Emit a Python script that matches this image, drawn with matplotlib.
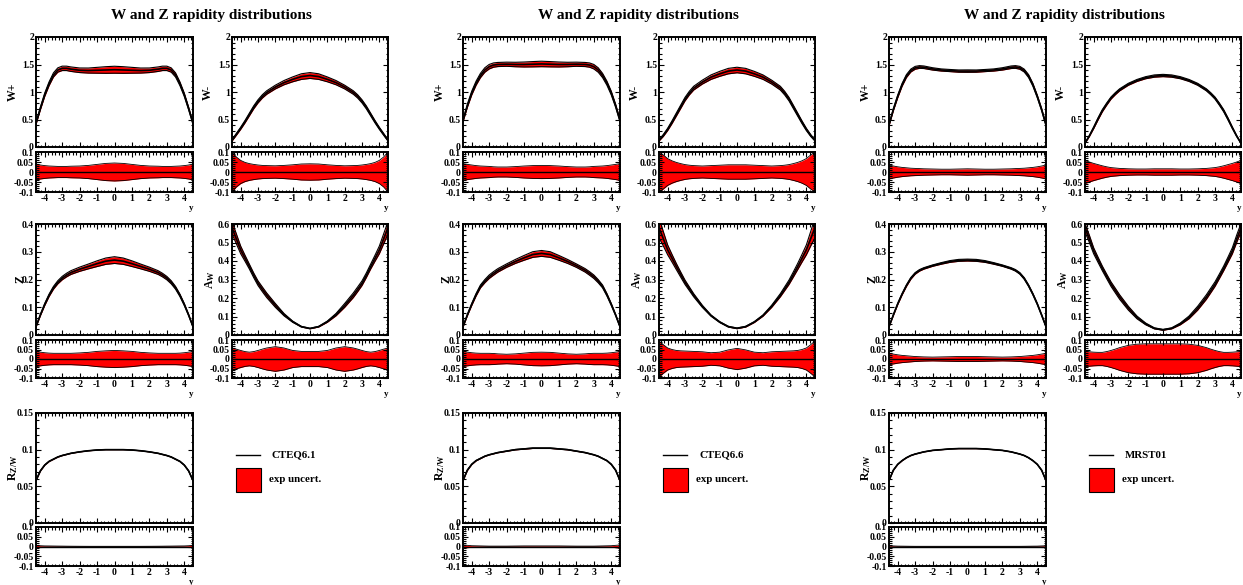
import matplotlib
matplotlib.use('Agg')
import matplotlib.pyplot as plt
from matplotlib.ticker import MultipleLocator, FuncFormatter
from matplotlib.patches import Rectangle
from matplotlib.lines import Line2D

plt.rcParams['font.family'] = ['Liberation Serif', 'DejaVu Serif']
plt.rcParams['font.weight'] = 'bold'
plt.rcParams['mathtext.default'] = 'regular'

# rapidity grid
y = [-4.5, -4.25, -4, -3.75, -3.5, -3.25, -3, -2.75, -2.5, -2, -1.5, -1, -0.5, 0,
     0.5, 1, 1.5, 2, 2.5, 2.75, 3, 3.25, 3.5, 3.75, 4, 4.25, 4.5]

pdf_names = ['CTEQ6.1', 'CTEQ6.6', 'MRST01']

# ---- CTEQ6.1 central values
c61_wp = [0.43, 0.70, 0.95, 1.15, 1.31, 1.40, 1.43, 1.43, 1.415, 1.395, 1.39, 1.395, 1.40, 1.405, 1.40, 1.395, 1.39, 1.395, 1.415, 1.43, 1.43, 1.40, 1.31, 1.15, 0.95, 0.70, 0.43]
c61_wm = [0.12, 0.23, 0.34, 0.46, 0.59, 0.72, 0.83, 0.92, 0.99, 1.09, 1.17, 1.23, 1.28, 1.30, 1.28, 1.23, 1.17, 1.09, 0.99, 0.92, 0.83, 0.72, 0.59, 0.46, 0.34, 0.23, 0.12]
c61_z = [0.03, 0.072, 0.11, 0.143, 0.17, 0.19, 0.205, 0.216, 0.225, 0.237, 0.247, 0.257, 0.266, 0.27, 0.266, 0.257, 0.247, 0.237, 0.225, 0.216, 0.205, 0.19, 0.17, 0.143, 0.11, 0.072, 0.03]
c61_aw = [0.58, 0.52, 0.46, 0.415, 0.37, 0.323, 0.28, 0.247, 0.215, 0.16, 0.11, 0.072, 0.045, 0.035, 0.045, 0.072, 0.11, 0.16, 0.215, 0.247, 0.28, 0.323, 0.37, 0.415, 0.46, 0.52, 0.58]
c61_rzw = [0.058, 0.071, 0.079, 0.084, 0.087, 0.09, 0.092, 0.0935, 0.095, 0.097, 0.0985, 0.0995, 0.1, 0.1, 0.1, 0.0995, 0.0985, 0.097, 0.095, 0.0935, 0.092, 0.09, 0.087, 0.084, 0.079, 0.071, 0.058]
# ---- CTEQ6.1 relative exp. uncertainty
c61_wp_err = [0.04, 0.035, 0.032, 0.03, 0.029, 0.028, 0.028, 0.028, 0.029, 0.03, 0.033, 0.038, 0.043, 0.045, 0.043, 0.038, 0.033, 0.03, 0.029, 0.028, 0.028, 0.028, 0.029, 0.03, 0.032, 0.035, 0.04]
c61_wm_err = [0.1, 0.075, 0.058, 0.048, 0.042, 0.038, 0.035, 0.033, 0.032, 0.031, 0.033, 0.036, 0.04, 0.041, 0.04, 0.036, 0.033, 0.031, 0.032, 0.033, 0.035, 0.038, 0.042, 0.048, 0.058, 0.075, 0.1]
c61_z_err = [0.04, 0.036, 0.033, 0.031, 0.03, 0.03, 0.03, 0.03, 0.03, 0.032, 0.035, 0.04, 0.043, 0.045, 0.043, 0.04, 0.035, 0.032, 0.03, 0.03, 0.03, 0.03, 0.03, 0.031, 0.033, 0.036, 0.04]
c61_aw_err = [0.058, 0.052, 0.045, 0.039, 0.036, 0.039, 0.045, 0.052, 0.058, 0.065, 0.058, 0.045, 0.04, 0.04, 0.04, 0.045, 0.058, 0.065, 0.058, 0.052, 0.045, 0.039, 0.036, 0.039, 0.045, 0.052, 0.058]
c61_rzw_err = [0.006, 0.004, 0.003, 0.0028, 0.0025, 0.0022, 0.002, 0.0017, 0.0015, 0.0012, 0.001, 0.001, 0.001, 0.001, 0.001, 0.001, 0.001, 0.0012, 0.0015, 0.0017, 0.002, 0.0022, 0.0025, 0.0028, 0.003, 0.004, 0.006]

# ---- CTEQ6.6 central values
c66_wp = [0.48, 0.75, 0.98, 1.16, 1.30, 1.40, 1.46, 1.49, 1.50, 1.505, 1.50, 1.50, 1.505, 1.51, 1.505, 1.50, 1.50, 1.505, 1.50, 1.49, 1.46, 1.40, 1.30, 1.16, 0.98, 0.75, 0.48]
c66_wm = [0.12, 0.21, 0.32, 0.45, 0.59, 0.73, 0.87, 0.98, 1.07, 1.18, 1.27, 1.33, 1.38, 1.40, 1.38, 1.33, 1.27, 1.18, 1.07, 0.98, 0.87, 0.73, 0.59, 0.45, 0.32, 0.21, 0.12]
c66_z = [0.03, 0.072, 0.11, 0.145, 0.175, 0.194, 0.21, 0.222, 0.233, 0.25, 0.265, 0.278, 0.29, 0.294, 0.29, 0.278, 0.265, 0.25, 0.233, 0.222, 0.21, 0.194, 0.175, 0.145, 0.11, 0.072, 0.03]
c66_aw = [0.58, 0.52, 0.46, 0.415, 0.37, 0.327, 0.285, 0.25, 0.215, 0.155, 0.105, 0.07, 0.045, 0.036, 0.045, 0.07, 0.105, 0.155, 0.215, 0.25, 0.285, 0.327, 0.37, 0.415, 0.46, 0.52, 0.58]
c66_rzw = [0.058, 0.072, 0.08, 0.085, 0.088, 0.091, 0.093, 0.0945, 0.096, 0.098, 0.1, 0.101, 0.102, 0.102, 0.102, 0.101, 0.1, 0.098, 0.096, 0.0945, 0.093, 0.091, 0.088, 0.085, 0.08, 0.072, 0.058]
# ---- CTEQ6.6 relative exp. uncertainty
c66_wp_err = [0.042, 0.038, 0.035, 0.032, 0.03, 0.029, 0.028, 0.026, 0.025, 0.025, 0.027, 0.03, 0.032, 0.033, 0.032, 0.03, 0.027, 0.025, 0.025, 0.026, 0.028, 0.029, 0.03, 0.032, 0.035, 0.038, 0.042]
c66_wm_err = [0.1, 0.085, 0.067, 0.056, 0.048, 0.042, 0.037, 0.034, 0.032, 0.03, 0.032, 0.034, 0.036, 0.036, 0.036, 0.034, 0.032, 0.03, 0.032, 0.034, 0.037, 0.042, 0.048, 0.056, 0.067, 0.085, 0.1]
c66_z_err = [0.04, 0.036, 0.033, 0.031, 0.03, 0.03, 0.03, 0.029, 0.027, 0.025, 0.027, 0.031, 0.035, 0.036, 0.035, 0.031, 0.027, 0.025, 0.027, 0.029, 0.03, 0.03, 0.03, 0.031, 0.033, 0.036, 0.04]
c66_aw_err = [0.095, 0.075, 0.058, 0.05, 0.045, 0.043, 0.042, 0.041, 0.04, 0.038, 0.033, 0.036, 0.048, 0.056, 0.048, 0.036, 0.033, 0.038, 0.04, 0.041, 0.042, 0.043, 0.045, 0.05, 0.058, 0.075, 0.095]
c66_rzw_err = [0.008, 0.006, 0.004, 0.0035, 0.003, 0.0025, 0.002, 0.002, 0.002, 0.002, 0.0025, 0.003, 0.003, 0.003, 0.003, 0.003, 0.0025, 0.002, 0.002, 0.002, 0.002, 0.0025, 0.003, 0.0035, 0.004, 0.006, 0.008]

# ---- MRST01 central values
mr_wp = [0.40, 0.68, 0.92, 1.13, 1.29, 1.39, 1.44, 1.455, 1.45, 1.42, 1.40, 1.39, 1.38, 1.38, 1.38, 1.39, 1.40, 1.42, 1.45, 1.455, 1.44, 1.39, 1.29, 1.13, 0.92, 0.68, 0.40]
mr_wm = [0.07, 0.2, 0.35, 0.51, 0.66, 0.78, 0.89, 0.97, 1.04, 1.14, 1.21, 1.26, 1.29, 1.30, 1.29, 1.26, 1.21, 1.14, 1.04, 0.97, 0.89, 0.78, 0.66, 0.51, 0.35, 0.2, 0.07]
mr_z = [0.03, 0.072, 0.112, 0.147, 0.178, 0.204, 0.222, 0.233, 0.24, 0.25, 0.258, 0.265, 0.269, 0.27, 0.269, 0.265, 0.258, 0.25, 0.24, 0.233, 0.222, 0.204, 0.178, 0.147, 0.112, 0.072, 0.03]
mr_aw = [0.58, 0.52, 0.455, 0.407, 0.36, 0.317, 0.275, 0.24, 0.205, 0.145, 0.095, 0.06, 0.036, 0.028, 0.036, 0.06, 0.095, 0.145, 0.205, 0.24, 0.275, 0.317, 0.36, 0.407, 0.455, 0.52, 0.58]
mr_rzw = [0.058, 0.072, 0.08, 0.085, 0.089, 0.092, 0.094, 0.0955, 0.097, 0.099, 0.1, 0.101, 0.1015, 0.1015, 0.1015, 0.101, 0.1, 0.099, 0.097, 0.0955, 0.094, 0.092, 0.089, 0.085, 0.08, 0.072, 0.058]
# ---- MRST01 relative exp. uncertainty
mr_wp_err = [0.035, 0.03, 0.026, 0.023, 0.021, 0.019, 0.018, 0.017, 0.016, 0.015, 0.014, 0.014, 0.015, 0.016, 0.015, 0.014, 0.014, 0.015, 0.016, 0.017, 0.018, 0.019, 0.021, 0.023, 0.026, 0.03, 0.035]
mr_wm_err = [0.058, 0.05, 0.043, 0.037, 0.031, 0.026, 0.022, 0.02, 0.018, 0.016, 0.015, 0.015, 0.016, 0.016, 0.016, 0.015, 0.015, 0.016, 0.018, 0.02, 0.022, 0.026, 0.031, 0.037, 0.043, 0.05, 0.058]
mr_z_err = [0.03, 0.026, 0.022, 0.019, 0.017, 0.015, 0.013, 0.012, 0.011, 0.01, 0.011, 0.012, 0.013, 0.013, 0.013, 0.012, 0.011, 0.01, 0.011, 0.012, 0.013, 0.015, 0.017, 0.019, 0.022, 0.026, 0.03]
mr_aw_err = [0.04, 0.038, 0.036, 0.035, 0.035, 0.039, 0.045, 0.052, 0.06, 0.072, 0.078, 0.08, 0.08, 0.08, 0.08, 0.08, 0.078, 0.072, 0.06, 0.052, 0.045, 0.039, 0.035, 0.035, 0.036, 0.038, 0.04]
mr_rzw_err = [0.004, 0.003, 0.002, 0.0018, 0.0015, 0.0012, 0.001, 0.001, 0.001, 0.001, 0.001, 0.001, 0.001, 0.001, 0.001, 0.001, 0.001, 0.001, 0.001, 0.001, 0.001, 0.0012, 0.0015, 0.0018, 0.002, 0.003, 0.004]

central = [
    [c61_wp, c61_wm, c61_z, c61_aw, c61_rzw],
    [c66_wp, c66_wm, c66_z, c66_aw, c66_rzw],
    [mr_wp, mr_wm, mr_z, mr_aw, mr_rzw],
]
errors = [
    [c61_wp_err, c61_wm_err, c61_z_err, c61_aw_err, c61_rzw_err],
    [c66_wp_err, c66_wm_err, c66_z_err, c66_aw_err, c66_rzw_err],
    [mr_wp_err, mr_wm_err, mr_z_err, mr_aw_err, mr_rzw_err],
]

obs_labels = ['W+', 'W-', 'Z', 'A$_W$', 'R$_{Z/W}$']
obs_ylim = [(0, 2), (0, 2), (0, 0.4), (0, 0.6), (0, 0.15)]
obs_major = [0.5, 0.5, 0.1, 0.1, 0.05]
obs_minor = [0.1, 0.1, 0.02, 0.02, 0.01]
obs_cell = [(0, 0), (0, 1), (1, 0), (1, 1), (2, 0)]
label_dx = [23, 24, 16, 22, 23]

W, H = 1243, 585
fig = plt.figure(figsize=(W / 100, H / 100), dpi=100)


def box(x0, y0, x1, y1):
    return fig.add_axes([x0 / W, 1 - y1 / H, (x1 - x0) / W, (y1 - y0) / H])


def style(ax):
    ax.tick_params(which='both', direction='in', top=True, right=True,
                   labelsize=7, width=0.8, pad=1.5)
    ax.tick_params(which='major', length=3.5)
    ax.tick_params(which='minor', length=1.8)
    ax.xaxis.set_major_locator(MultipleLocator(1))
    ax.xaxis.set_minor_locator(MultipleLocator(0.2))
    ax.xaxis.set_major_formatter(FuncFormatter(lambda v, p: '%g' % v))
    ax.yaxis.set_major_formatter(FuncFormatter(lambda v, p: '%g' % round(v, 4)))
    for s in ax.spines.values():
        s.set_linewidth(1.4)
    ax.set_xlim(-4.5, 4.5)


panel_x = [0, 427, 853]
col_x = [(36, 193), (232, 388)]
rows = [((37, 147), (152, 192)), ((224, 335), (340, 378)), ((413, 523), (527, 566))]

for p in range(3):
    dx = panel_x[p]
    fig.text((dx + 211) / W, 1 - 15 / H, 'W and Z rapidity distributions',
             ha='center', va='center', fontsize=11, fontweight='bold')
    for k in range(5):
        r, c = obs_cell[k]
        x0, x1 = col_x[c][0] + dx, col_x[c][1] + dx
        (m0, m1), (q0, q1) = rows[r]
        cv = central[p][k]
        er = errors[p][k]
        lo = [v * (1 - e) for v, e in zip(cv, er)]
        hi = [v * (1 + e) for v, e in zip(cv, er)]

        # distribution with exp. uncertainty band
        ax = box(x0, m0, x1, m1)
        style(ax)
        ax.fill_between(y, lo, hi, color='red', lw=0)
        ax.plot(y, lo, color='black', lw=0.8)
        ax.plot(y, hi, color='black', lw=0.8)
        ax.plot(y, cv, color='black', lw=1.2)
        ax.set_ylim(*obs_ylim[k])
        ax.yaxis.set_major_locator(MultipleLocator(obs_major[k]))
        ax.yaxis.set_minor_locator(MultipleLocator(obs_minor[k]))
        ax.tick_params(labelbottom=False)
        fig.text((x0 - label_dx[k]) / W, 1 - ((m0 + m1) / 2) / H, obs_labels[k],
                 rotation=90, ha='center', va='center', fontsize=8.5,
                 fontweight='bold')

        # relative uncertainty
        rx = box(x0, q0, x1, q1)
        style(rx)
        rx.fill_between(y, [-e for e in er], er, color='red', lw=0)
        rx.plot(y, er, color='black', lw=0.6)
        rx.plot(y, [-e for e in er], color='black', lw=0.6)
        rx.axhline(0, color='black', lw=1.0)
        rx.set_ylim(-0.1, 0.1)
        rx.yaxis.set_major_locator(MultipleLocator(0.05))
        rx.yaxis.set_minor_locator(MultipleLocator(0.01))
        fig.text(x1 / W, 1 - (q1 + 16) / H, 'y', ha='right', va='center',
                 fontsize=6.5, fontweight='bold')

    # legend
    lx = dx + 236
    fig.add_artist(Line2D([lx / W, (lx + 24) / W], [1 - 455 / H, 1 - 455 / H],
                          color='black', lw=1.0))
    fig.text((dx + 272) / W, 1 - 455 / H, pdf_names[p], ha='left', va='center',
             fontsize=7.8, fontweight='bold')
    fig.add_artist(Rectangle((lx / W, 1 - 492 / H), 25 / W, 24 / H,
                             facecolor='red', edgecolor='black', lw=0.8))
    fig.text((dx + 269) / W, 1 - 480 / H, 'exp uncert.', ha='left', va='center',
             fontsize=7.8, fontweight='bold')

fig.savefig('out.png', dpi=100)
